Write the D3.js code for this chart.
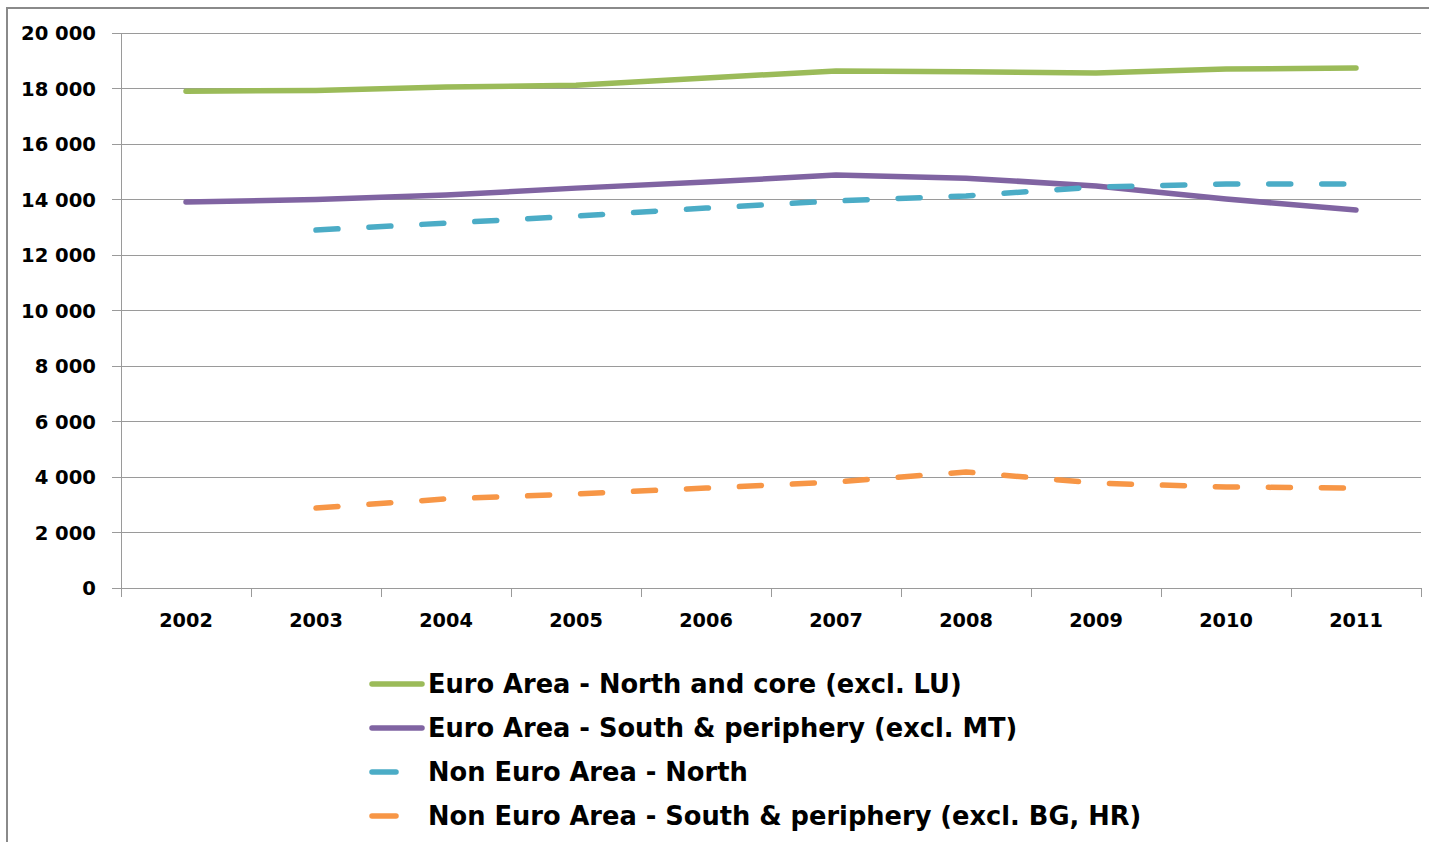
<!DOCTYPE html>
<html><head><meta charset="utf-8">
<script src="https://cdn.jsdelivr.net/npm/d3@7"></script>
<style>body{margin:0;background:#fff;} svg{display:block;}</style>
</head><body>
<svg id="chart" width="1429" height="842"></svg>
<script>
const years = ["2002","2003","2004","2005","2006","2007","2008","2009","2010","2011"];
const euroNorth = [17900, 17930, 18050, 18120, 18380, 18630, 18600, 18560, 18700, 18740];
const euroSouth = [13910, 14000, 14160, 14410, 14630, 14880, 14770, 14490, 14020, 13620];
const nonEuroNorth = [null, 12900, 13150, 13400, 13690, 13950, 14130, 14450, 14560, 14560];
const nonEuroSouth = [null, 2880, 3210, 3390, 3600, 3820, 4180, 3780, 3640, 3600];
const yTicks = [0, 2000, 4000, 6000, 8000, 10000, 12000, 14000, 16000, 18000, 20000];
const seriesNames = ["Euro Area - North and core (excl. LU)", "Euro Area - South & periphery (excl. MT)", "Non Euro Area - North", "Non Euro Area - South & periphery (excl. BG, HR)"];
const seriesColors = ["#9BBB59", "#8064A2", "#4BACC6", "#F79646"];
const seriesDashed = [false, false, true, true];
const seriesData = [euroNorth, euroSouth, nonEuroNorth, nonEuroSouth];

const svg = d3.select("#chart");
const font = "'DejaVu Sans', sans-serif";
const pLeft = 121, pRight = 1421, pTop = 33, pBottom = 588;

// outer frame
svg.append("path").attr("d", `M7,842 L7,8 L1429,8`).attr("fill","none").attr("stroke","#8a8a8a").attr("stroke-width",2);

const x = d3.scaleBand().domain(years).range([pLeft, pRight]);
const y = d3.scaleLinear().domain([0, 20000]).range([pBottom, pTop]);

// gridlines
svg.append("g").selectAll("line").data(yTicks).join("line")
  .attr("x1", pLeft - 9).attr("x2", pRight)
  .attr("y1", d => y(d)).attr("y2", d => y(d))
  .attr("stroke", "#9a9a9a").attr("stroke-width", 1).attr("shape-rendering","crispEdges");

// y axis line
svg.append("line").attr("x1", pLeft).attr("x2", pLeft).attr("y1", pTop).attr("y2", pBottom)
  .attr("stroke","#9a9a9a").attr("stroke-width",1).attr("shape-rendering","crispEdges");

// x axis ticks
const xTickPos = years.map(d => x(d)).concat([pRight]);
svg.append("g").selectAll("line").data(xTickPos).join("line")
  .attr("x1", d => d).attr("x2", d => d).attr("y1", pBottom).attr("y2", pBottom + 9)
  .attr("stroke","#9a9a9a").attr("stroke-width",1).attr("shape-rendering","crispEdges");

// y labels
const fmt = v => d3.format(",")(v).replace(/,/g, " ");
svg.append("g").selectAll("text").data(yTicks).join("text")
  .attr("x", 96).attr("y", d => y(d) + 7)
  .attr("text-anchor","end").attr("font-family", font).attr("font-weight","bold").attr("font-size", 19.6)
  .attr("fill","#000").text(d => fmt(d));

// x labels
svg.append("g").selectAll("text").data(years).join("text")
  .attr("x", d => x(d) + x.bandwidth()/2).attr("y", 627)
  .attr("text-anchor","middle").attr("font-family", font).attr("font-weight","bold").attr("font-size", 19.3)
  .attr("fill","#000").text(d => d);

// lines
const line = d3.line()
  .defined(d => d.v != null)
  .x(d => x(d.year) + x.bandwidth()/2)
  .y(d => y(d.v));

seriesData.forEach((arr, i) => {
  const pts = years.map((yr, j) => ({year: yr, v: arr[j]}));
  svg.append("path").datum(pts)
    .attr("d", line)
    .attr("fill","none")
    .attr("stroke", seriesColors[i])
    .attr("stroke-width", 5.5)
    .attr("stroke-linecap","round")
    .attr("stroke-linejoin","round")
    .attr("stroke-dasharray", seriesDashed[i] ? "22,31" : null);
});

// legend
const legY = [684, 728, 772, 816];
seriesNames.forEach((name, i) => {
  const g = svg.append("g");
  g.append("line")
    .attr("x1", 372).attr("x2", seriesDashed[i] ? 396 : 422)
    .attr("y1", legY[i]).attr("y2", legY[i])
    .attr("stroke", seriesColors[i]).attr("stroke-width", 5.5).attr("stroke-linecap","round");
  g.append("text").attr("x", 428).attr("y", legY[i] + 9)
    .attr("font-family", font).attr("font-weight","bold").attr("font-size", 25.7)
    .attr("fill","#000").text(name);
});
</script>
</body></html>
